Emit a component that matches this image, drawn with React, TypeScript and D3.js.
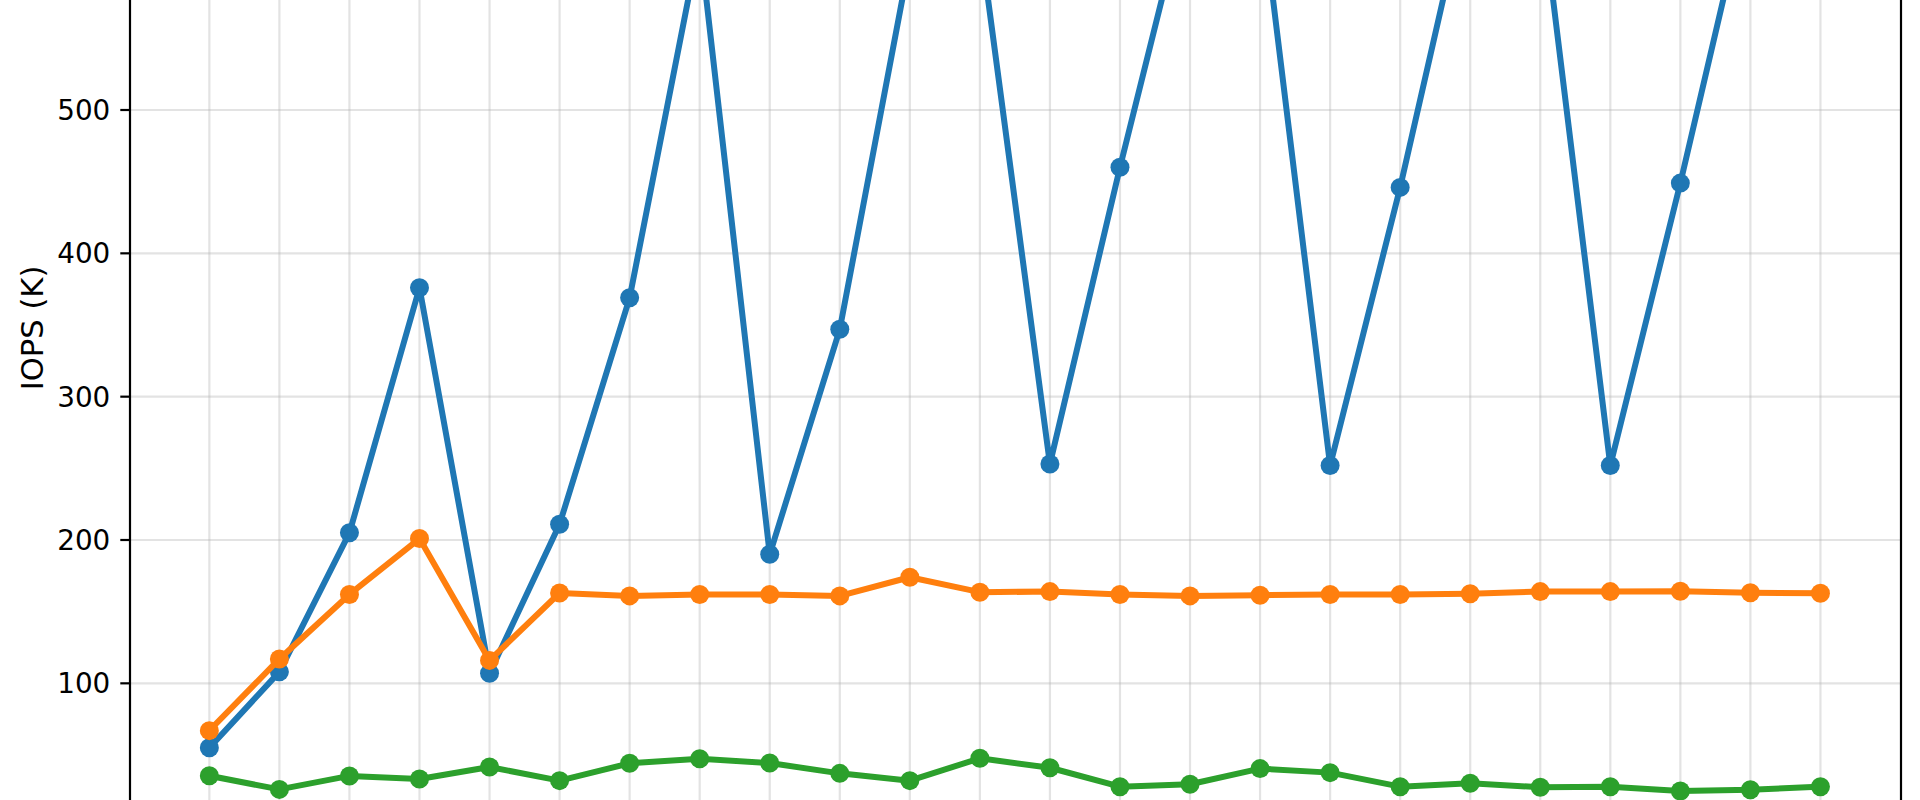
import React, { useEffect } from "react";
import * as d3 from "d3";

// x positions (index of each run)
const runs: number[] = d3.range(24);

// IOPS (K) per series
const blueSeries: number[] = [55, 108, 205, 376, 107, 211, 369, 618, 190, 347, 605, 620, 253, 460, 656, 651, 252, 446, 660, 650, 252, 449, 658, 652];
const orangeSeries: number[] = [67, 117, 162, 201, 116, 163, 161, 162, 162, 161, 174, 163.6, 164, 162, 161, 161.5, 162, 162, 162.5, 164, 164, 164.3, 163.2, 162.8];
const greenSeries: number[] = [35.5, 26, 35.4, 33.3, 41.6, 32.1, 44.2, 47.4, 44.4, 37.2, 32.1, 47.7, 41.1, 27.9, 29.6, 40.5, 37.7, 27.9, 30.3, 27.5, 27.9, 24.9, 25.8, 27.9];

const yTicks: number[] = [100, 200, 300, 400, 500];
const yLabel = "IOPS (K)";

const seriesList = [
  { name: "blue", values: blueSeries, color: "#1f77b4" },
  { name: "orange", values: orangeSeries, color: "#ff7f0e" },
  { name: "green", values: greenSeries, color: "#2ca02c" },
];

const W = 1920;
const H = 800;
const plotLeft = 130;
const plotRight = 1901;

export default function App() {
  useEffect(() => {
    document.body.style.margin = "0";
    document.body.style.overflow = "hidden";
  }, []);

  const x = d3.scaleLinear().domain([-1.15, 24.15]).range([plotLeft - 1.2, plotRight]);
  const y = d3.scaleLinear().domain([100, 500]).range([683.33, 110]);

  const line = d3
    .line<number>()
    .x((_, i) => x(runs[i]))
    .y((v) => y(v));

  const font = "'DejaVu Sans', sans-serif";

  return (
    <svg
      width={W}
      height={H}
      style={{ position: "absolute", left: 0, top: 0, display: "block", background: "#fff" }}
    >
      <defs>
        <clipPath id="plotClip">
          <rect x={plotLeft} y={-100} width={plotRight - plotLeft} height={H + 200} />
        </clipPath>
      </defs>
      <rect x={0} y={0} width={W} height={H} fill="#fff" />
      {/* grid */}
      <g clipPath="url(#plotClip)">
        {runs.map((r) => (
          <line key={"gx" + r} x1={x(r)} x2={x(r)} y1={-50} y2={H + 50} stroke="#b0b0b0" strokeOpacity={0.35} strokeWidth={2.2} />
        ))}
        {yTicks.map((t) => (
          <line key={"gy" + t} x1={plotLeft} x2={plotRight} y1={y(t)} y2={y(t)} stroke="#b0b0b0" strokeOpacity={0.35} strokeWidth={2.2} />
        ))}
      </g>
      {/* series */}
      <g clipPath="url(#plotClip)">
        {seriesList.map((s) => (
          <g key={s.name}>
            <path d={line(s.values) || ""} fill="none" stroke={s.color} strokeWidth={6} strokeLinejoin="round" strokeLinecap="square" />
            {s.values.map((v, i) => (
              <circle key={i} cx={x(runs[i])} cy={y(v)} r={9.5} fill={s.color} />
            ))}
          </g>
        ))}
      </g>
      {/* spines */}
      <line x1={plotLeft} x2={plotLeft} y1={0} y2={H} stroke="#000" strokeWidth={2.2} />
      <line x1={plotRight} x2={plotRight} y1={0} y2={H} stroke="#000" strokeWidth={2.2} />
      {/* y ticks */}
      {yTicks.map((t) => (
        <g key={"yt" + t}>
          <line x1={plotLeft - 9.7} x2={plotLeft} y1={y(t)} y2={y(t)} stroke="#000" strokeWidth={2.2} />
          <text x={plotLeft - 9.7 - 10} y={y(t)} dy="0.36em" textAnchor="end" fontFamily={font} fontSize={27.8} fill="#000">
            {t}
          </text>
        </g>
      ))}
      <text
        transform={`translate(43, 328) rotate(-90)`}
        textAnchor="middle"
        fontFamily={font}
        fontSize={30.6}
        fill="#000"
      >
        {yLabel}
      </text>
    </svg>
  );
}
